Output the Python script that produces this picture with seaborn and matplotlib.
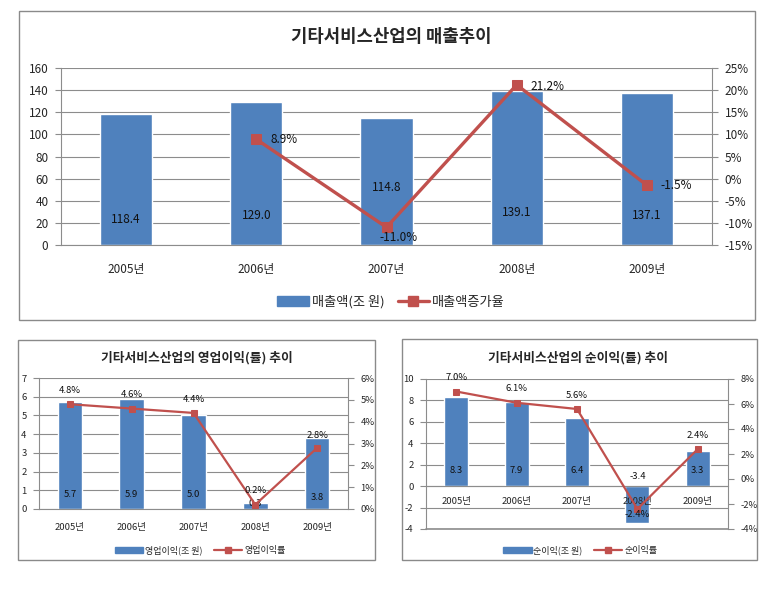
import numpy as np
import pandas as pd
import seaborn as sns
import matplotlib.pyplot as plt
from matplotlib.patches import Rectangle, Patch
from matplotlib.lines import Line2D
from matplotlib.ticker import FuncFormatter

# data
years = ['2005년', '2006년', '2007년', '2008년', '2009년']

sales = [118.4, 129.0, 114.8, 139.1, 137.1]
sales_growth = [np.nan, 8.9, -11.0, 21.2, -1.5]

op_profit = [5.7, 5.9, 5.0, 0.3, 3.8]
op_margin = [4.8, 4.6, 4.4, 0.2, 2.8]

net_profit = [8.3, 7.9, 6.4, -3.4, 3.3]
net_margin = [7.0, 6.1, 5.6, -2.4, 2.4]

BLUE = '#4F81BD'
RED = '#C0504D'
GRID = '#8C8C8C'

W, H = 783, 615


def px_box(left, top, right, bottom):
    return [left / W, 1 - bottom / H, (right - left) / W, (bottom - top) / H]


def frame(fig, left, top, right, bottom):
    x, y, w, h = px_box(left, top, right, bottom)
    fig.add_artist(Rectangle((x, y), w, h, transform=fig.transFigure,
                             fill=False, edgecolor='#8A8A8A', lw=1.0))


def combo(fig, box, bars, rates, ylim, ystep, rlim, rstep, fs, lw, ms,
          bar_lbl_y, rate_offsets, xpad=6, zero_axis=False):
    ax = fig.add_axes(box)
    df = pd.DataFrame({'year': years, 'value': bars})
    sns.barplot(data=df, x='year', y='value', color=BLUE, width=0.4,
                saturation=1, ax=ax, zorder=2)
    ax.set_xlim(-0.5, len(years) - 0.5)
    ax.set_ylim(*ylim)
    ax.set_yticks(np.arange(ylim[0], ylim[1] + ystep / 2, ystep))
    ax.yaxis.set_major_formatter(FuncFormatter(lambda v, p: f'{v:g}'))
    ax.grid(axis='y', color=GRID, lw=0.8, zorder=0)
    ax.set_axisbelow(True)
    ax.set_xlabel('')
    ax.set_ylabel('')
    ax.set_xticks(np.arange(-0.5, len(years)), minor=True)
    ax.tick_params(axis='x', which='major', length=0, labelsize=fs, pad=xpad)
    ax.tick_params(axis='x', which='minor', length=4, color=GRID)
    ax.tick_params(axis='y', length=4, color=GRID, labelsize=fs, pad=5)
    for s in ['left', 'bottom']:
        ax.spines[s].set_color(GRID)
    ax.spines['top'].set_visible(False)
    ax.spines['right'].set_visible(False)
    if zero_axis:
        # category labels sit on the zero line, drawn over the bars
        ax.spines['bottom'].set_position(('data', 0))
        ax.tick_params(axis='x', which='minor', length=0)
        ax.xaxis.set_zorder(3)
        ax.axhline(ylim[0], color=GRID, lw=1.2, zorder=0, clip_on=False)

    for i, (v, ly) in enumerate(zip(bars, bar_lbl_y)):
        ax.text(i, ly, f'{v:.1f}', ha='center', va='center', fontsize=fs,
                color='#111111', zorder=5)

    ax2 = ax.twinx()
    sns.lineplot(x=np.arange(len(years)), y=rates, ax=ax2, color=RED,
                 lw=lw, marker='s', markersize=ms, markeredgecolor=RED,
                 zorder=4)
    ax2.set_ylim(*rlim)
    ax2.set_yticks(np.arange(rlim[0], rlim[1] + rstep / 2, rstep))
    ax2.yaxis.set_major_formatter(FuncFormatter(lambda v, p: f'{v:g}%'))
    ax2.tick_params(axis='y', length=4, color=GRID, labelsize=fs, pad=5)
    ax2.spines['right'].set_color(GRID)
    for s in ['top', 'left', 'bottom']:
        ax2.spines[s].set_visible(False)
    ax2.set_ylabel('')
    for i, (r, off) in enumerate(zip(rates, rate_offsets)):
        if np.isnan(r):
            continue
        ax2.annotate(f'{r:.1f}%', (i, r), xytext=off, textcoords='offset points',
                     ha='center', va='center', fontsize=fs, color='#111111',
                     zorder=6)
    return ax, ax2


sns.set_style('white')
plt.rcParams['font.family'] = ['Noto Sans CJK KR', 'DejaVu Sans']

fig = plt.figure(figsize=(W / 100, H / 100), dpi=100)

# top panel: sales
frame(fig, 19, 11, 755, 320)
fig.text(391 / W, 1 - 37 / H, '기타서비스산업의 매출추이', ha='center', va='center',
         fontsize=12.8, fontweight='bold')
combo(fig, px_box(61, 68, 712, 245), sales, sales_growth,
      (0, 160), 20, (-15, 25), 5, 8.5, 2.4, 6.5,
      [23, 27, 52, 29, 27],
      [None, (20, 0), (9, -7), (22, -1), (21, 0)], xpad=13)
fig.legend(handles=[Patch(color=BLUE, label='매출액(조 원)'),
                    Line2D([], [], color=RED, lw=2.4, marker='s', markersize=6.5,
                           label='매출액증가율')],
           loc='center', bbox_to_anchor=(391 / W, 1 - 302 / H), ncol=2,
           frameon=False, fontsize=9.5, handlelength=2.4, columnspacing=1.0,
           handletextpad=0.2)

# bottom left: operating profit
frame(fig, 18, 340, 375, 560)
fig.text(197 / W, 1 - 358 / H, '기타서비스산업의 영업이익(률) 추이', ha='center',
         va='center', fontsize=9.2, fontweight='bold')
combo(fig, px_box(39, 378, 348, 509), op_profit, op_margin,
      (0, 7), 1, (0, 6), 1, 6.8, 1.6, 4.5,
      [0.8, 0.8, 0.8, 0.3, 0.6],
      [(0, 10), (0, 10), (0, 10), (0, 10), (0, 9)], xpad=10)
fig.legend(handles=[Patch(color=BLUE, label='영업이익(조 원)'),
                    Line2D([], [], color=RED, lw=1.6, marker='s', markersize=4.5,
                           label='영업이익률')],
           loc='center', bbox_to_anchor=(200 / W, 1 - 550 / H), ncol=2,
           frameon=False, fontsize=6.5, handlelength=3.2, columnspacing=1.2,
           handletextpad=0.2)

# bottom right: net profit
frame(fig, 402, 339, 757, 560)
fig.text(578 / W, 1 - 358 / H, '기타서비스산업의 순이익(률) 추이', ha='center',
         va='center', fontsize=9.2, fontweight='bold')
combo(fig, px_box(426, 379, 728, 529), net_profit, net_margin,
      (-4, 10), 2, (-4, 8), 2, 6.8, 1.6, 4.5,
      [1.5, 1.5, 1.5, 0.9, 1.5],
      [(0, 10), (0, 10), (0, 10), (0, -4), (0, 10)], xpad=8,
      zero_axis=True)
fig.legend(handles=[Patch(color=BLUE, label='순이익(조 원)'),
                    Line2D([], [], color=RED, lw=1.6, marker='s', markersize=4.5,
                           label='순이익률')],
           loc='center', bbox_to_anchor=(580 / W, 1 - 550 / H), ncol=2,
           frameon=False, fontsize=6.5, handlelength=3.2, columnspacing=1.2,
           handletextpad=0.2)

fig.savefig('out.png', dpi=100)
plt.close(fig)
